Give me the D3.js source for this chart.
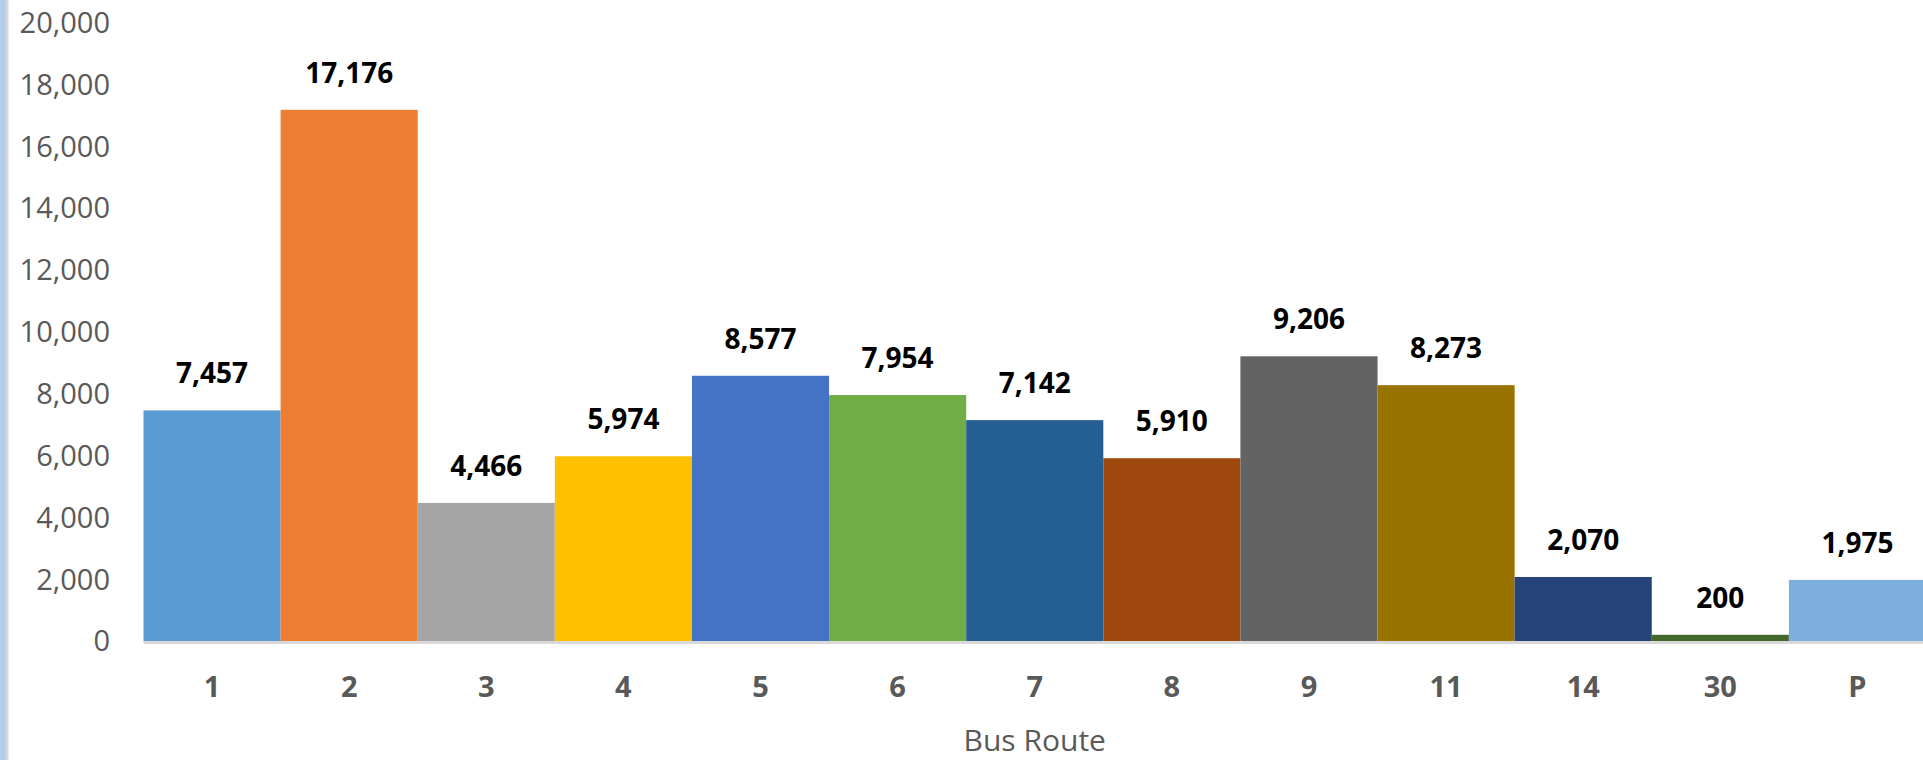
<!DOCTYPE html>
<html>
<head>
<meta charset="utf-8">
<script src="https://cdn.jsdelivr.net/npm/d3@7"></script>
<style>
  html, body { margin: 0; padding: 0; background: #fff; }
  svg { display: block; font-family: "Open Sans", "Liberation Sans", sans-serif; }
</style>
</head>
<body>
<svg id="chart" width="1923" height="760"></svg>
<script>
// chart data
const routes = ["1", "2", "3", "4", "5", "6", "7", "8", "9", "11", "14", "30", "P"];
const riders = [7457, 17176, 4466, 5974, 8577, 7954, 7142, 5910, 9206, 8273, 2070, 200, 1975];
const barColors = ["#5b9bd5", "#ed7d31", "#a5a5a5", "#ffc000", "#4472c4", "#70ad47",
  "#255e91", "#9e480e", "#636363", "#997300", "#264478", "#43682b", "#7cafdd"];
const yTicks = [0, 2000, 4000, 6000, 8000, 10000, 12000, 14000, 16000, 18000, 20000];
const axisTitle = "Bus Route";

const svg = d3.select("#chart");
const W = 1923, H = 760;
const plotLeft = 143.5, plotRight = 1926, plotTop = 22.5, plotBottom = 641;

const x = d3.scaleBand().domain(routes).range([plotLeft, plotRight]).padding(0);
const y = d3.scaleLinear().domain([0, 20000]).range([plotBottom, plotTop]);
const fmt = d3.format(",");

// window edge strip on the left
svg.append("rect").attr("x", 0).attr("y", 0).attr("width", 6.5).attr("height", H).attr("fill", "#b4cfe9");
svg.append("rect").attr("x", 6.5).attr("y", 0).attr("width", 2).attr("height", H).attr("fill", "#d4d4d4");

// y axis labels (no line)
svg.append("g")
  .selectAll("text")
  .data(yTicks)
  .join("text")
  .attr("x", 110)
  .attr("y", d => y(d))
  .attr("dy", "0.36em")
  .attr("text-anchor", "end")
  .attr("fill", "#595959")
  .style("font-size", "29px")
  .text(d => fmt(d));

// bars
const data = routes.map((r, i) => ({route: r, value: riders[i], color: barColors[i]}));

svg.append("g")
  .selectAll("rect")
  .data(data)
  .join("rect")
  .attr("x", d => x(d.route))
  .attr("y", d => y(d.value))
  .attr("width", x.bandwidth())
  .attr("height", d => plotBottom - y(d.value))
  .attr("fill", d => d.color);

// category axis line
svg.append("line")
  .attr("x1", plotLeft).attr("x2", W)
  .attr("y1", plotBottom + 1.5).attr("y2", plotBottom + 1.5)
  .attr("stroke", "#d9d9d9")
  .attr("stroke-width", 3);

// data labels
svg.append("g")
  .selectAll("text")
  .data(data)
  .join("text")
  .attr("x", d => x(d.route) + x.bandwidth() / 2)
  .attr("y", d => y(d.value) - 27)
  .attr("text-anchor", "middle")
  .attr("fill", "#000")
  .style("font-size", "28px")
  .style("font-weight", "bold")
  .text(d => fmt(d.value));

// x tick labels
svg.append("g")
  .selectAll("text")
  .data(routes)
  .join("text")
  .attr("x", d => x(d) + x.bandwidth() / 2)
  .attr("y", 697)
  .attr("text-anchor", "middle")
  .attr("fill", "#595959")
  .style("font-size", "29px")
  .style("font-weight", "bold")
  .text(d => d);

// axis title
svg.append("text")
  .attr("x", (plotLeft + plotRight) / 2)
  .attr("y", 751)
  .attr("text-anchor", "middle")
  .attr("fill", "#595959")
  .style("font-size", "30px")
  .text(axisTitle);
</script>
</body>
</html>
